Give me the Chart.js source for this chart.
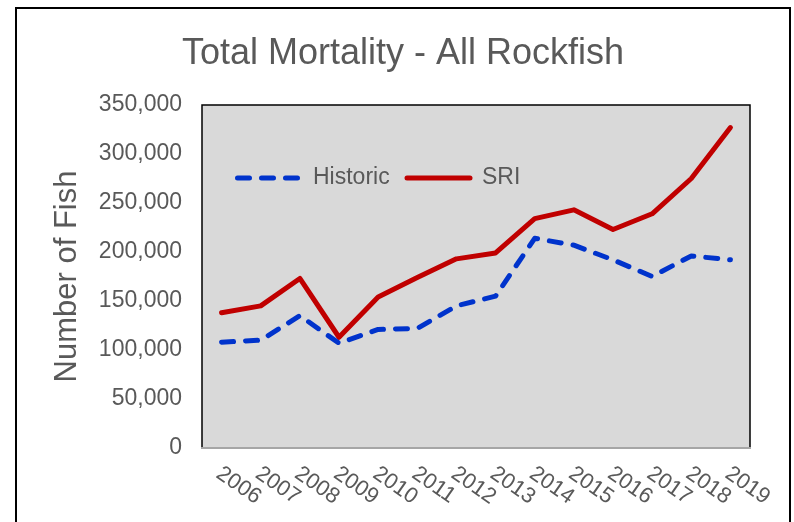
<!DOCTYPE html>
<html>
<head>
<meta charset="utf-8">
<script src="https://cdn.jsdelivr.net/npm/chart.js@4.4.0/dist/chart.umd.min.js"></script>
<style>
  html, body { margin: 0; padding: 0; background: #fff; }
  #wrap { width: 794px; height: 522px; }
</style>
</head>
<body>
<div id="wrap"><canvas id="mortalityChart" width="794" height="522"></canvas></div>
<script>
const years = ['2006', '2007', '2008', '2009', '2010', '2011', '2012', '2013', '2014', '2015', '2016', '2017', '2018', '2019'];
const historic = [108000, 110000, 135000, 107000, 121000, 122000, 145000, 155000, 214000, 207000, 192000, 175000, 196000, 192000];
const sri = [138000, 145000, 173000, 113000, 154000, 174000, 193000, 199000, 234000, 243000, 223000, 239000, 275000, 327000];
const yMin = 0;
const yMax = 350000;
const yStep = 50000;

const textColor = '#595959';
const fontFamily = '"Liberation Sans", Arial, sans-serif';
Chart.defaults.font.family = fontFamily;
Chart.defaults.color = textColor;

// plot box, outer frame, rotated year labels and the in-plot legend
const decor = {
  id: 'decor',
  beforeDraw(chart) {
    const { ctx, chartArea: a } = chart;
    ctx.save();
    ctx.fillStyle = '#fff';
    ctx.fillRect(0, 0, chart.width, chart.height);
    ctx.strokeStyle = '#000';
    ctx.lineWidth = 2;
    ctx.strokeRect(16, 8, 774, 540);
    ctx.fillStyle = '#d9d9d9';
    ctx.fillRect(a.left, a.top, a.width, a.height);
    ctx.lineWidth = 1.5;
    ctx.beginPath();
    ctx.moveTo(a.left, a.bottom);
    ctx.lineTo(a.left, a.top);
    ctx.lineTo(a.right, a.top);
    ctx.lineTo(a.right, a.bottom);
    ctx.stroke();
    ctx.restore();
  },
  afterDraw(chart) {
    const { ctx, chartArea: a } = chart;
    const xs = chart.scales.x;

    ctx.save();
    ctx.font = '22px ' + fontFamily;
    ctx.fillStyle = textColor;
    ctx.textAlign = 'left';
    ctx.textBaseline = 'middle';
    chart.data.labels.forEach((lab, i) => {
      const x = xs.getPixelForTick(i);
      ctx.save();
      ctx.translate(x - 3, a.bottom + 23.5);
      ctx.rotate(35 * Math.PI / 180);
      ctx.fillText(lab, 0, 0);
      ctx.restore();
    });

    // legend
    const ly = a.top + 73;
    const entries = [
      { ds: 0, x0: a.left + 35.5, x1: a.left + 95.5, tx: a.left + 111 },
      { ds: 1, x0: a.left + 205, x1: a.left + 268, tx: a.left + 280 }
    ];
    ctx.font = '23px ' + fontFamily;
    entries.forEach(e => {
      const ds = chart.data.datasets[e.ds];
      ctx.save();
      ctx.strokeStyle = ds.borderColor;
      ctx.lineWidth = ds.borderWidth;
      ctx.lineCap = 'round';
      ctx.setLineDash(ds.borderDash || []);
      ctx.beginPath();
      ctx.moveTo(e.x0, ly);
      ctx.lineTo(e.x1, ly);
      ctx.stroke();
      ctx.restore();
      ctx.fillText(ds.label, e.tx, ly);
    });
    ctx.restore();
  }
};

new Chart(document.getElementById('mortalityChart'), {
  type: 'line',
  data: {
    labels: years,
    datasets: [
      {
        label: 'Historic',
        data: historic,
        borderColor: '#0033cc',
        borderWidth: 5,
        borderDash: [12, 12],
        borderCapStyle: 'round',
        borderJoinStyle: 'round',
        pointRadius: 0,
        tension: 0,
        fill: false
      },
      {
        label: 'SRI',
        data: sri,
        borderColor: '#c00000',
        borderWidth: 5,
        borderCapStyle: 'round',
        borderJoinStyle: 'round',
        pointRadius: 0,
        tension: 0,
        fill: false
      }
    ]
  },
  options: {
    responsive: false,
    animation: false,
    layout: { padding: { left: 56, right: 44, top: 0, bottom: 74 } },
    plugins: {
      legend: { display: false },
      tooltip: { enabled: false },
      title: {
        display: true,
        text: 'Total Mortality - All Rockfish',
        color: textColor,
        font: { size: 36, weight: 'normal' },
        padding: { top: 32, bottom: 29.8 }
      }
    },
    scales: {
      x: {
        offset: true,
        grid: { display: false, drawTicks: false },
        ticks: { display: false },
        border: { display: true, color: '#a6a6a6', width: 2 },
        afterFit: s => { s.height = 0; }
      },
      y: {
        min: yMin,
        max: yMax,
        grid: { display: false, drawTicks: false },
        border: { display: false },
        ticks: {
          stepSize: yStep,
          padding: 20,
          color: textColor,
          font: { size: 23 },
          callback: v => v.toLocaleString('en-US')
        },
        title: {
          display: true,
          text: 'Number of Fish',
          color: textColor,
          font: { size: 31, lineHeight: 0.77 },
          padding: 0
        },
        afterFit: s => { s.width = 146; }
      }
    }
  },
  plugins: [decor]
});
</script>
</body>
</html>
